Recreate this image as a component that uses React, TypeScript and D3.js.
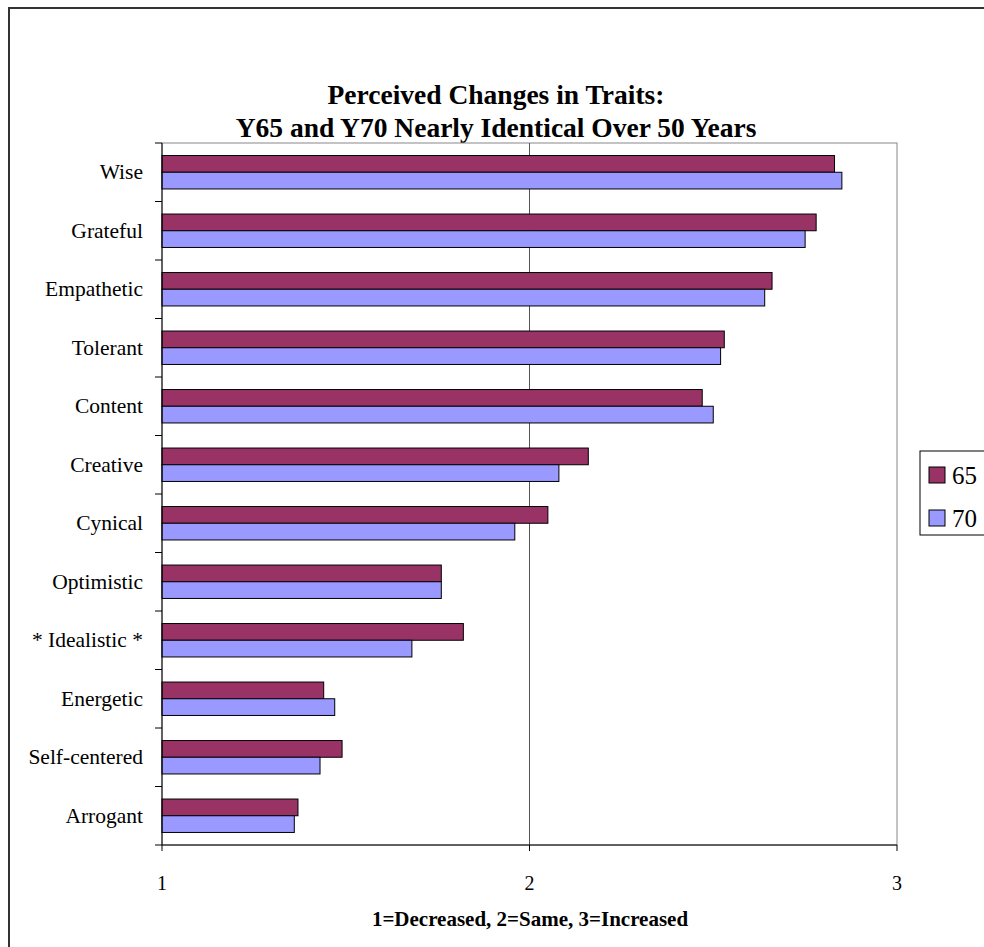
import React from "react";
import * as d3 from "d3";

const categories = ["Wise", "Grateful", "Empathetic", "Tolerant", "Content", "Creative", "Cynical", "Optimistic", "* Idealistic *", "Energetic", "Self-centered", "Arrogant"];
const series65 = [2.83, 2.78, 2.66, 2.53, 2.47, 2.16, 2.05, 1.76, 1.82, 1.44, 1.49, 1.37];
const series70 = [2.85, 2.75, 2.64, 2.52, 2.50, 2.08, 1.96, 1.76, 1.68, 1.47, 1.43, 1.36];
const seriesNames = ["65", "70"];
const xTicks = [1, 2, 3];
const titleLines = ["Perceived Changes in Traits:", "Y65 and Y70 Nearly Identical Over 50 Years"];
const xLabel = "1=Decreased, 2=Same, 3=Increased";

const colors = ["#993366", "#9999FF"];
const FONT = "'Liberation Serif', 'Times New Roman', serif";

export default function App() {
  const W = 984, H = 947;
  const left = 162, right = 897, top = 143, bottom = 845;
  const x = d3.scaleLinear().domain([1, 3]).range([left, right]);
  const y = d3.scaleBand().domain(categories).range([top, bottom]).paddingInner(0).paddingOuter(0);
  const bw = y.bandwidth();
  const barH = bw / 3.5;
  const seriesData = [series65, series70];

  return (
    <div style={{ position: "absolute", left: 0, top: 0 }}>
      <svg width={W} height={H} style={{ display: "block" }}>
        <rect x={0} y={0} width={W} height={H} fill="#fff" />
        <rect x={9} y={8} width={W + 20} height={H + 20} fill="#fff" stroke="#333" strokeWidth={2} />
        {titleLines.map((t, i) => (
          <text key={i} x={496} y={104 + i * 33} textAnchor="middle" fontFamily={FONT} fontWeight="bold" fontSize={27.5}>{t}</text>
        ))}
        {/* plot area border */}
        <rect x={left} y={top} width={right - left} height={bottom - top} fill="none" stroke="#888" strokeWidth={1} />
        {/* gridline at 2 */}
        {xTicks.slice(1, -1).map((t) => (
          <line key={t} x1={x(t)} x2={x(t)} y1={top} y2={bottom} stroke="#555" strokeWidth={1} />
        ))}
        {/* bars */}
        {categories.map((c, i) => (
          <g key={c}>
            {seriesData.map((s, j) => {
              const yy = (y(c) as number) + (bw - 2 * barH) / 2 + j * barH;
              return (
                <rect key={j} x={x(1)} y={yy} width={x(s[i]) - x(1)} height={barH} fill={colors[j]} stroke="#000" strokeWidth={1} />
              );
            })}
          </g>
        ))}
        {/* axes */}
        <line x1={left} x2={left} y1={top} y2={bottom} stroke="#000" strokeWidth={1} />
        <line x1={left} x2={right} y1={bottom} y2={bottom} stroke="#000" strokeWidth={1} />
        {d3.range(categories.length + 1).map((k) => (
          <line key={k} x1={left - 7} x2={left} y1={top + k * bw} y2={top + k * bw} stroke="#000" strokeWidth={1} />
        ))}
        {xTicks.map((t) => (
          <g key={t}>
            <line x1={x(t)} x2={x(t)} y1={bottom} y2={bottom + 6} stroke="#000" strokeWidth={1} />
            <text x={x(t)} y={890} textAnchor="middle" fontFamily={FONT} fontSize={20}>{t}</text>
          </g>
        ))}
        {categories.map((c) => (
          <text key={c} x={143} y={(y(c) as number) + bw / 2 + 7} textAnchor="end" fontFamily={FONT} fontSize={21.5}>{c}</text>
        ))}
        <text x={530} y={926} textAnchor="middle" fontFamily={FONT} fontWeight="bold" fontSize={21}>{xLabel}</text>
        {/* legend */}
        <rect x={920} y={451} width={80} height={84} fill="#fff" stroke="#000" strokeWidth={1} />
        {seriesNames.map((n, j) => (
          <g key={n}>
            <rect x={929} y={467 + j * 43} width={16} height={16} fill={colors[j]} stroke="#000" strokeWidth={1} />
            <text x={952} y={484 + j * 43} fontFamily={FONT} fontSize={25}>{n}</text>
          </g>
        ))}
      </svg>
    </div>
  );
}
